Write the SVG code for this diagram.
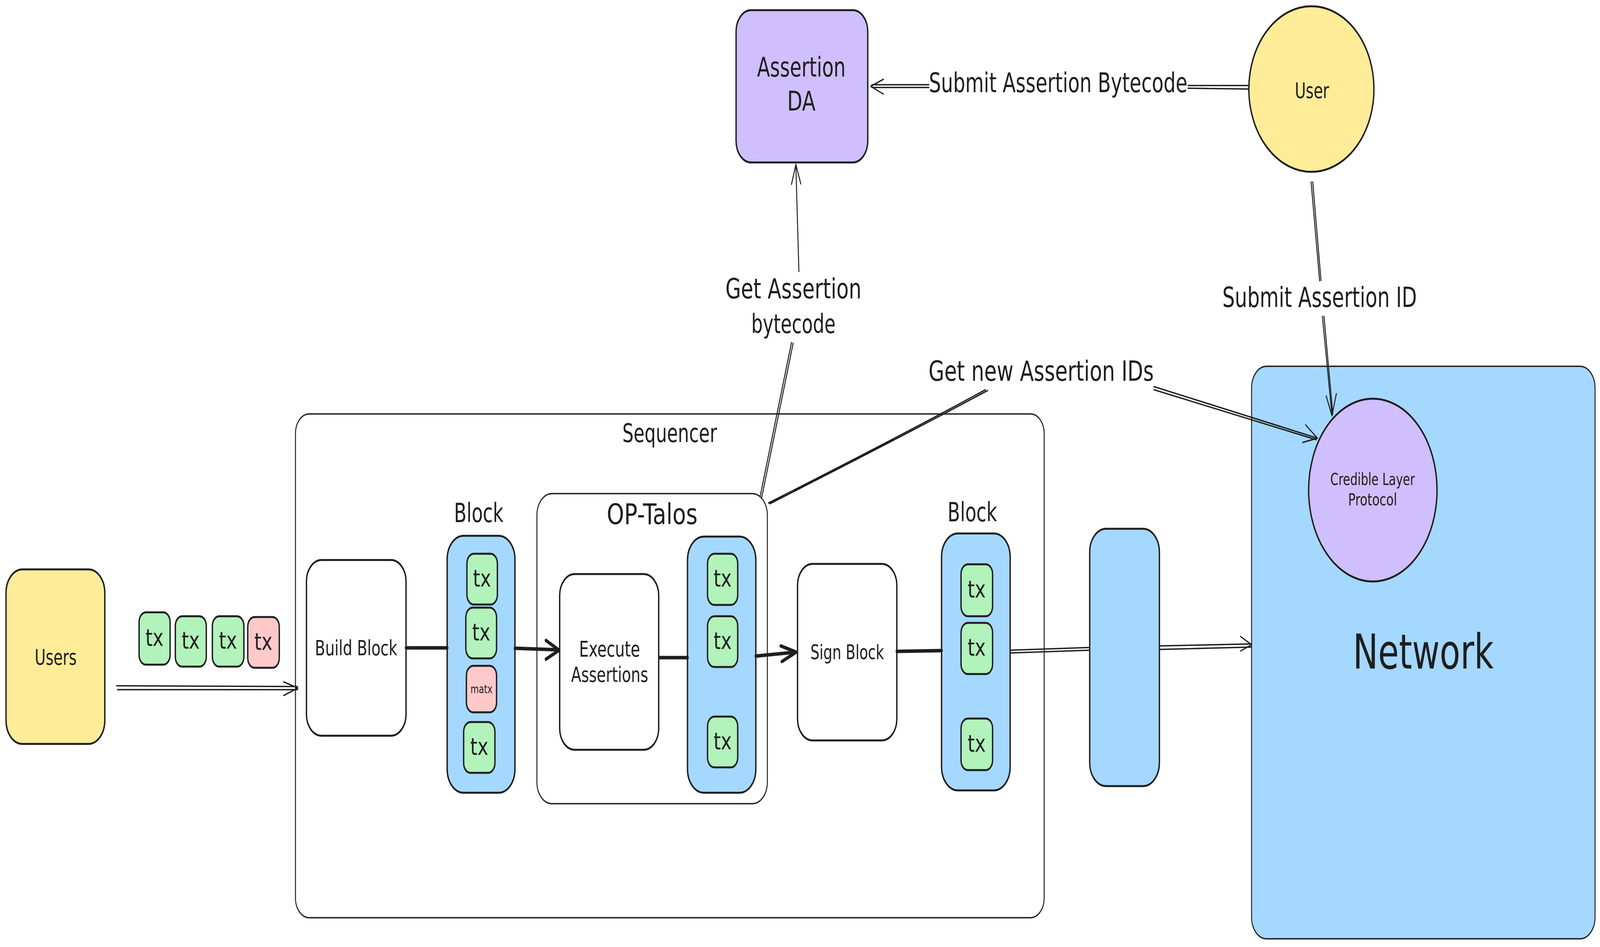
<svg xmlns="http://www.w3.org/2000/svg" width="5832" height="2425" viewBox="0 0 5832 2425" preserveAspectRatio="none">
<style>
svg{width:100vw;height:100vh}
.s{stroke:#1e1e1e;stroke-width:5;stroke-linejoin:round;stroke-linecap:round}
.th{stroke-width:3.5}
.y{fill:#ffec99}.g{fill:#b2f2bb}.r{fill:#ffc9c9}.b{fill:#a5d8ff}.p{fill:#d0bfff}.w{fill:#ffffff}
text{font-family:"DejaVu Sans","Liberation Sans",sans-serif;fill:#1e1e1e;text-anchor:middle}
.c{fill:none;stroke:#1e1e1e;stroke-linecap:round;stroke-linejoin:round}
.c1{stroke-width:3.5}.c2{stroke-width:9}
</style>
<rect width="5832" height="2425" fill="#ffffff"/>

<g id="users">
<rect class="s y" x="22" y="1458" width="360" height="447" rx="60"/>
<text x="203" y="1702" font-size="55" textLength="153" lengthAdjust="spacingAndGlyphs">Users</text>
</g>
<g id="tx-queue-1"><rect class="s g" x="507" y="1568" width="113" height="134" rx="25"/><text x="563" y="1654" font-size="60" textLength="66" lengthAdjust="spacingAndGlyphs">tx</text></g>
<g id="tx-queue-2"><rect class="s g" x="639" y="1578" width="113" height="129" rx="25"/><text x="695" y="1661" font-size="60" textLength="66" lengthAdjust="spacingAndGlyphs">tx</text></g>
<g id="tx-queue-3"><rect class="s g" x="774" y="1578" width="115" height="129" rx="25"/><text x="831" y="1661" font-size="60" textLength="66" lengthAdjust="spacingAndGlyphs">tx</text></g>
<g id="tx-queue-4"><rect class="s r" x="903" y="1580" width="115" height="130" rx="25"/><text x="960" y="1664" font-size="60" textLength="66" lengthAdjust="spacingAndGlyphs">tx</text></g>

<g id="sequencer">
<rect class="s th w" x="1077" y="1060" width="2729" height="1290" rx="50"/>
<text x="2441" y="1132" font-size="65" textLength="345" lengthAdjust="spacingAndGlyphs">Sequencer</text>
</g>

<g id="build-block">
<rect class="s w" x="1117" y="1434" width="363" height="450" rx="55"/>
<text x="1298" y="1678" font-size="54" textLength="300" lengthAdjust="spacingAndGlyphs">Build Block</text>
</g>

<g id="block-1">
<text x="1745" y="1337" font-size="67" textLength="180" lengthAdjust="spacingAndGlyphs">Block</text>
<rect class="s b" x="1630" y="1372" width="247" height="658" rx="60"/>
</g>
<g id="block-1-tx-1"><rect class="s g" x="1702" y="1418" width="111" height="130" rx="25"/><text x="1757" y="1502" font-size="60" textLength="66" lengthAdjust="spacingAndGlyphs">tx</text></g>
<g id="block-1-tx-2"><rect class="s g" x="1698" y="1556" width="112" height="130" rx="25"/><text x="1754" y="1640" font-size="60" textLength="66" lengthAdjust="spacingAndGlyphs">tx</text></g>
<g id="block-1-matx"><rect class="s r" x="1700" y="1705" width="110" height="119" rx="25"/><text x="1755" y="1775" font-size="31" textLength="80" lengthAdjust="spacingAndGlyphs">matx</text></g>
<g id="block-1-tx-3"><rect class="s g" x="1690" y="1849" width="114" height="130" rx="25"/><text x="1747" y="1933" font-size="60" textLength="66" lengthAdjust="spacingAndGlyphs">tx</text></g>

<g id="op-talos">
<rect class="s th w" x="1957" y="1264" width="840" height="794" rx="55"/>
<text x="2377" y="1342" font-size="73" textLength="331" lengthAdjust="spacingAndGlyphs">OP-Talos</text>
</g>

<g id="execute-assertions">
<rect class="s w" x="2040" y="1470" width="361" height="450" rx="55"/>
<text x="2222" y="1681" font-size="55" textLength="222" lengthAdjust="spacingAndGlyphs">Execute</text>
<text x="2222" y="1746" font-size="54" textLength="281" lengthAdjust="spacingAndGlyphs">Assertions</text>
</g>

<g id="op-block">
<rect class="s b" x="2506" y="1374" width="249" height="656" rx="60"/>
</g>
<g id="op-block-tx-1"><rect class="s g" x="2579" y="1418" width="110" height="131" rx="25"/><text x="2634" y="1502" font-size="60" textLength="66" lengthAdjust="spacingAndGlyphs">tx</text></g>
<g id="op-block-tx-2"><rect class="s g" x="2579" y="1578" width="110" height="130" rx="25"/><text x="2634" y="1662" font-size="60" textLength="66" lengthAdjust="spacingAndGlyphs">tx</text></g>
<g id="op-block-tx-3"><rect class="s g" x="2579" y="1835" width="110" height="130" rx="25"/><text x="2634" y="1919" font-size="60" textLength="66" lengthAdjust="spacingAndGlyphs">tx</text></g>

<g id="sign-block">
<rect class="s w" x="2907" y="1444" width="362" height="452" rx="55"/>
<text x="3088" y="1688" font-size="52" textLength="268" lengthAdjust="spacingAndGlyphs">Sign Block</text>
</g>

<g id="block-2">
<text x="3544" y="1335" font-size="67" textLength="180" lengthAdjust="spacingAndGlyphs">Block</text>
<rect class="s b" x="3432" y="1366" width="250" height="658" rx="60"/>
</g>
<g id="block-2-tx-1"><rect class="s g" x="3503" y="1445" width="115" height="133" rx="25"/><text x="3560" y="1530" font-size="60" textLength="66" lengthAdjust="spacingAndGlyphs">tx</text></g>
<g id="block-2-tx-2"><rect class="s g" x="3503" y="1595" width="115" height="131" rx="25"/><text x="3560" y="1679" font-size="60" textLength="66" lengthAdjust="spacingAndGlyphs">tx</text></g>
<g id="block-2-tx-3"><rect class="s g" x="3503" y="1840" width="115" height="132" rx="25"/><text x="3560" y="1925" font-size="60" textLength="66" lengthAdjust="spacingAndGlyphs">tx</text></g>

<g id="outgoing-block">
<rect class="s b" x="3972" y="1354" width="254" height="659" rx="60"/>
</g>

<g id="network">
<rect class="s th b" x="4562" y="938" width="1252" height="1466" rx="55"/>
<text x="5188" y="1712" font-size="123" textLength="513" lengthAdjust="spacingAndGlyphs">Network</text>
</g>

<g id="credible-layer-protocol">
<ellipse class="s p" cx="5004" cy="1255" rx="234" ry="234"/>
<text x="5003" y="1242" font-size="42" textLength="308" lengthAdjust="spacingAndGlyphs">Credible Layer</text>
<text x="5003" y="1294" font-size="43" textLength="178" lengthAdjust="spacingAndGlyphs">Protocol</text>
</g>

<g id="assertion-da">
<rect class="s p" x="2683" y="26" width="480" height="390" rx="55"/>
<text x="2921" y="196" font-size="69" textLength="323" lengthAdjust="spacingAndGlyphs">Assertion</text>
<text x="2921" y="283" font-size="69" textLength="103" lengthAdjust="spacingAndGlyphs">DA</text>
</g>

<g id="user">
<ellipse class="s y" cx="4780" cy="228" rx="228" ry="212"/>
<text x="4782" y="251" font-size="55" textLength="125" lengthAdjust="spacingAndGlyphs">User</text>
</g>

<g id="connectors">
<g id="users-to-sequencer">
<path class="c c1" d="M425,1756 L1084,1758 M428,1766 L1084,1766"/>
<path class="c c1" d="M1034,1746 L1086,1762 L1034,1781"/>
</g>
<g id="build-to-block">
<path class="c c2" d="M1480,1659 L1630,1659"/>
</g>
<g id="block-to-execute">
<path class="c c2" d="M1877,1660 L2036,1664"/>
<path class="c c2" d="M1990,1640 L2038,1665 L1990,1688"/>
</g>
<g id="execute-to-op-block">
<path class="c c2" d="M2405,1684 L2506,1684"/>
</g>
<g id="op-block-to-sign">
<path class="c c2" d="M2755,1680 L2900,1670"/>
<path class="c c2" d="M2846,1654 L2902,1670 L2850,1694"/>
</g>
<g id="sign-to-block-2">
<path class="c c2" d="M3269,1668 L3432,1666"/>
</g>
<g id="block-2-to-outgoing">
<path class="c c1" d="M3682,1665 L3972,1658 M3682,1672 L3972,1665"/>
</g>
<g id="outgoing-to-network">
<path class="c c1" d="M4226,1654 L4560,1649 M4226,1663 L4560,1657"/>
<path class="c c1" d="M4522,1630 L4562,1651 L4522,1667"/>
</g>
<g id="user-to-da">
<path class="c c1" d="M4549,219 L4330,219 M4549,228 L4330,226"/>
<path class="c c1" d="M3386,217 L3178,217 M3386,224 L3178,224"/>
<path class="c c1" d="M3220,203 L3174,221 L3220,241"/>
<text x="3857" y="236" font-size="70" textLength="942" lengthAdjust="spacingAndGlyphs">Submit Assertion Bytecode</text>
</g>
<g id="op-talos-to-da">
<path class="c c1" d="M2771,1270 L2885,877 M2777,1272 L2891,879"/>
<path class="c c1" d="M2912,695 L2901,425"/>
<path class="c c1" d="M2885,472 L2901,421 L2919,471"/>
<text x="2892" y="764" font-size="71" textLength="496" lengthAdjust="spacingAndGlyphs">Get Assertion</text>
<text x="2892" y="853" font-size="67" textLength="307" lengthAdjust="spacingAndGlyphs">bytecode</text>
</g>
<g id="op-talos-to-clp">
<path class="c c1" d="M2801,1288 Q3300,1110 3592,998 M2806,1290 Q3304,1112 3600,1000"/>
<path class="c c1" d="M4206,990 L4802,1122 M4206,998 L4798,1126"/>
<path class="c c1" d="M4759,1088 L4802,1122 L4748,1133"/>
<text x="3795" y="975" font-size="72" textLength="821" lengthAdjust="spacingAndGlyphs">Get new Assertion IDs</text>
</g>
<g id="user-to-clp">
<path class="c c1" d="M4779,466 L4810,719 M4785,466 L4815,718"/>
<path class="c c1" d="M4820,810 L4855,1063 M4826,810 L4858,1060"/>
<path class="c c1" d="M4834,1014 L4855,1065 L4871,1008"/>
<text x="4810" y="786" font-size="71" textLength="709" lengthAdjust="spacingAndGlyphs">Submit Assertion ID</text>
</g>
</g>
</svg>
